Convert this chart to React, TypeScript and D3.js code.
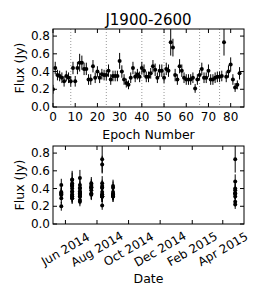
import React, { useEffect, useRef } from 'react';
import * as d3 from 'd3';

// flux per epoch (Jy)
const flux = [
  0.20, 0.44, 0.36, 0.35, 0.33, 0.29, 0.35, 0.33, 0.29, 0.44,
  0.29, 0.44, 0.50, 0.50, 0.43, 0.43, 0.31, 0.31, 0.46, 0.33,
  0.40, 0.33, 0.37, 0.36, 0.36, 0.41, 0.31, 0.35, 0.35, 0.35,
  0.52, 0.40, 0.31, 0.27, 0.25, 0.33, 0.44, 0.34, 0.37, 0.34,
  0.44, 0.41, 0.34, 0.34, 0.38, 0.46, 0.42, 0.33, 0.41, 0.41,
  0.33, 0.43, 0.41, 0.73, 0.67, 0.36, 0.31, 0.46, 0.41, 0.33,
  0.31, 0.31, 0.31, 0.33, 0.21, 0.31, 0.36, 0.43, 0.33, 0.33,
  0.41, 0.31, 0.31, 0.33, 0.34, 0.34, 0.35, 0.73, 0.34, 0.40,
  0.48, 0.31, 0.22, 0.25, 0.38,
];
const fluxErr = [
  0.05, 0.07, 0.06, 0.06, 0.06, 0.06, 0.06, 0.06, 0.06, 0.07,
  0.06, 0.07, 0.10, 0.08, 0.07, 0.07, 0.06, 0.06, 0.07, 0.06,
  0.06, 0.06, 0.06, 0.06, 0.06, 0.07, 0.06, 0.06, 0.06, 0.06,
  0.09, 0.07, 0.06, 0.05, 0.05, 0.06, 0.07, 0.06, 0.06, 0.06,
  0.07, 0.07, 0.06, 0.06, 0.06, 0.07, 0.07, 0.06, 0.07, 0.07,
  0.06, 0.07, 0.07, 0.15, 0.10, 0.07, 0.06, 0.08, 0.07, 0.06,
  0.06, 0.06, 0.06, 0.06, 0.05, 0.06, 0.06, 0.07, 0.06, 0.06,
  0.07, 0.06, 0.06, 0.06, 0.06, 0.06, 0.06, 0.15, 0.06, 0.07,
  0.08, 0.06, 0.05, 0.05, 0.07,
];
// first epoch of each observing session and its date
const sessionFirstEpoch = [0, 8, 24, 40, 50, 66, 75];
const sessionDates = ['2014-05-24', '2014-06-14', '2014-06-29', '2014-07-21', '2014-08-11', '2014-09-01', '2015-04-25'];
const epochTicks = [0, 10, 20, 30, 40, 50, 60, 70, 80];
const fluxTicks = [0, 0.2, 0.4, 0.6, 0.8];
const dateTicks = ['2014-06-01', '2014-08-01', '2014-10-01', '2014-12-01', '2015-02-01', '2015-04-01'];

const App = () => {
  const ref = useRef<SVGSVGElement>(null);

  useEffect(() => {
    const svg = d3.select(ref.current);
    svg.selectAll('*').remove();
    const font = 'DejaVu Sans, sans-serif';
    const left = 53, right = 244;
    const top1 = 29, bot1 = 107, top2 = 146, bot2 = 224;
    const parse = d3.timeParse('%Y-%m-%d');

    const points = flux.map((f, i) => {
      let s = 0;
      sessionFirstEpoch.forEach((e, k) => { if (i >= e) s = k; });
      return { epoch: i, f, err: fluxErr[i], date: parse(sessionDates[s]) as Date };
    });

    const x1 = d3.scaleLinear().domain([0, 86]).range([left, right]);
    const y1 = d3.scaleLinear().domain([0, 0.88]).range([bot1, top1]);
    const x2 = d3.scaleTime().domain([new Date(2014, 4, 8), new Date(2015, 4, 12)]).range([left, right]);
    const y2 = d3.scaleLinear().domain([0, 0.88]).range([bot2, top2]);

    const panel = (top: number, bot: number, id: string) => {
      const g = svg.append('g');
      svg.append('clipPath').attr('id', id).append('rect')
        .attr('x', left).attr('y', top).attr('width', right - left).attr('height', bot - top);
      return g;
    };

    // top panel
    const g1 = panel(top1, bot1, 'c1');
    const c1 = g1.append('g').attr('clip-path', 'url(#c1)');
    c1.selectAll('.sep').data(sessionFirstEpoch.slice(1)).enter().append('line')
      .attr('x1', d => x1(d)).attr('x2', d => x1(d)).attr('y1', top1).attr('y2', bot1)
      .attr('stroke', '#999').attr('stroke-width', 1).attr('stroke-dasharray', '1,2');
    c1.selectAll('.eb').data(points).enter().append('line')
      .attr('x1', d => x1(d.epoch)).attr('x2', d => x1(d.epoch))
      .attr('y1', d => y1(d.f - d.err)).attr('y2', d => y1(d.f + d.err))
      .attr('stroke', '#000').attr('stroke-width', 1);
    c1.selectAll('.pt').data(points).enter().append('circle')
      .attr('cx', d => x1(d.epoch)).attr('cy', d => y1(d.f)).attr('r', 2).attr('fill', '#000');

    // bottom panel
    const g2 = panel(top2, bot2, 'c2');
    const c2 = g2.append('g').attr('clip-path', 'url(#c2)');
    c2.selectAll('.eb').data(points).enter().append('line')
      .attr('x1', d => x2(d.date)).attr('x2', d => x2(d.date))
      .attr('y1', d => y2(d.f - d.err)).attr('y2', d => y2(d.f + d.err))
      .attr('stroke', '#000').attr('stroke-width', 1);
    c2.selectAll('.pt').data(points).enter().append('circle')
      .attr('cx', d => x2(d.date)).attr('cy', d => y2(d.f)).attr('r', 2).attr('fill', '#000');

    const ticks = (g: any, xs: number[], top: number, bot: number, ys: number[]) => {
      xs.forEach(px => {
        g.append('line').attr('x1', px).attr('x2', px).attr('y1', bot).attr('y2', bot - 4).attr('stroke', '#000');
        g.append('line').attr('x1', px).attr('x2', px).attr('y1', top).attr('y2', top + 4).attr('stroke', '#000');
      });
      ys.forEach(py => {
        g.append('line').attr('x1', left).attr('x2', left + 4).attr('y1', py).attr('y2', py).attr('stroke', '#000');
        g.append('line').attr('x1', right).attr('x2', right - 4).attr('y1', py).attr('y2', py).attr('stroke', '#000');
      });
      g.append('rect').attr('x', left).attr('y', top).attr('width', right - left).attr('height', bot - top)
        .attr('fill', 'none').attr('stroke', '#000').attr('stroke-width', 1);
    };
    ticks(g1, epochTicks.map(d => x1(d)), top1, bot1, fluxTicks.map(d => y1(d)));
    ticks(g2, dateTicks.map(d => x2(parse(d) as Date)), top2, bot2, fluxTicks.map(d => y2(d)));

    // tick labels
    g1.selectAll('.xl').data(epochTicks).enter().append('text')
      .attr('x', d => x1(d)).attr('y', bot1 + 14).attr('text-anchor', 'middle')
      .style('font-family', font).style('font-size', '12px').text(d => d);
    [[g1, y1], [g2, y2]].forEach(([g, y]: any) => {
      g.selectAll('.yl').data(fluxTicks).enter().append('text')
        .attr('x', left - 3).attr('y', (d: number) => y(d) + 4).attr('text-anchor', 'end')
        .style('font-family', font).style('font-size', '12px').text((d: number) => d.toFixed(1));
    });
    const fmt = d3.timeFormat('%b %Y');
    g2.selectAll('.dl').data(dateTicks).enter().append('text')
      .attr('transform', (d: string) => `translate(${x2(parse(d) as Date)},${bot2 + 25}) rotate(-30)`)
      .attr('text-anchor', 'middle').attr('dy', '0.35em')
      .style('font-family', font).style('font-size', '12px').text((d: string) => fmt(parse(d) as Date));

    // titles and axis labels
    svg.append('text').attr('x', (left + right) / 2).attr('y', 25).attr('text-anchor', 'middle')
      .style('font-family', font).style('font-size', '15px').text('J1900-2600');
    svg.append('text').attr('x', (left + right) / 2).attr('y', 139).attr('text-anchor', 'middle')
      .style('font-family', font).style('font-size', '12.5px').text('Epoch Number');
    svg.append('text').attr('x', (left + right) / 2).attr('y', 283).attr('text-anchor', 'middle')
      .style('font-family', font).style('font-size', '12.5px').text('Date');
    [[top1, bot1], [top2, bot2]].forEach(([t, b]) => {
      svg.append('text').attr('transform', `translate(24,${(t + b) / 2}) rotate(-90)`)
        .attr('text-anchor', 'middle')
        .style('font-family', font).style('font-size', '12.5px').text('Flux (Jy)');
    });
  }, []);

  return (
    <svg ref={ref} width={263} height={300}
      style={{ position: 'absolute', left: 0, top: 0, background: '#fff' }} />
  );
};

export default App;
